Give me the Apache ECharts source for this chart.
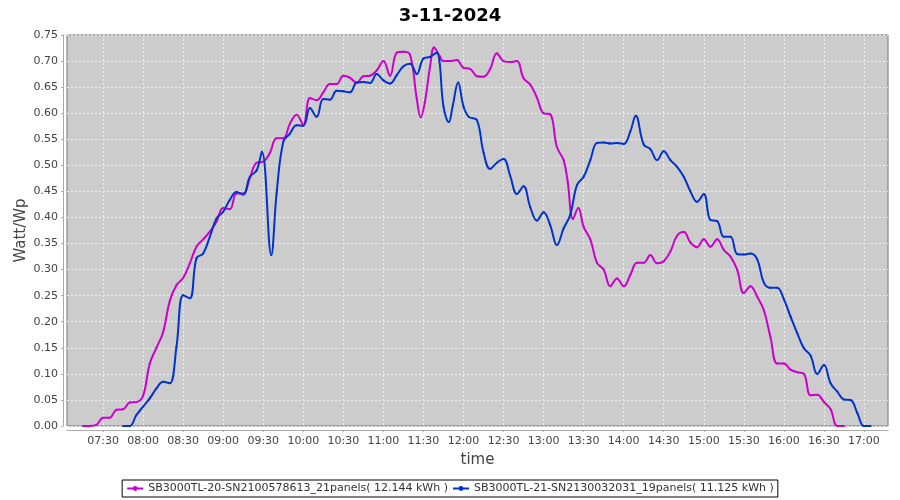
<!DOCTYPE html>
<html>
<head>
<meta charset="utf-8">
<script src="https://cdn.jsdelivr.net/npm/echarts@6/dist/echarts.min.js"></script>
<style>html,body{margin:0;padding:0;background:#fff}#c{width:900px;height:500px}</style>
</head>
<body>
<div id="c"></div>
<script>
const chartTitle = '3-11-2024';
const seriesNames = ['SB3000TL-20-SN2100578613_21panels( 12.144 kWh )', 'SB3000TL-21-SN2130032031_19panels( 11.125 kWh )'];
const yTicks = [0, 0.75, 0.05];
const xTickLabels = ['07:30','08:00','08:30','09:00','09:30','10:00','10:30','11:00','11:30','12:00','12:30','13:00','13:30','14:00','14:30','15:00','15:30','16:00','16:30','17:00'];
const xRange = ['07:03', '17:18'];

const magentaTimes = ['07:15','07:20','07:25','07:30','07:35','07:40','07:45','07:50','07:55','08:00','08:05','08:10','08:15','08:20','08:25','08:30','08:35','08:40','08:45','08:50','08:55','09:00','09:05','09:10','09:15','09:20','09:25','09:30','09:35','09:40','09:45','09:50','09:55','10:00','10:05','10:10','10:15','10:20','10:25','10:30','10:35','10:40','10:45','10:50','10:55','11:00','11:05','11:10','11:15','11:20','11:25','11:28','11:31','11:35','11:38','11:42','11:45','11:50','11:55','12:00','12:05','12:10','12:15','12:20','12:25','12:30','12:35','12:40','12:45','12:50','12:55','13:00','13:05','13:10','13:15','13:18','13:22','13:26','13:30','13:35','13:40','13:45','13:50','13:55','14:00','14:05','14:10','14:15','14:20','14:25','14:30','14:35','14:40','14:45','14:50','14:55','15:00','15:05','15:10','15:15','15:20','15:25','15:30','15:35','15:40','15:45','15:50','15:55','16:00','16:05','16:10','16:15','16:20','16:25','16:30','16:35','16:40','16:45'];
const magentaValues = [0,0,0.002,0.016,0.016,0.031,0.032,0.045,0.046,0.058,0.12,0.15,0.18,0.24,0.27,0.284,0.312,0.344,0.358,0.373,0.392,0.418,0.416,0.446,0.446,0.476,0.505,0.507,0.524,0.552,0.552,0.58,0.597,0.578,0.629,0.625,0.64,0.656,0.656,0.672,0.668,0.658,0.671,0.672,0.682,0.70,0.672,0.716,0.718,0.712,0.628,0.592,0.62,0.69,0.726,0.71,0.70,0.70,0.702,0.687,0.685,0.671,0.670,0.685,0.715,0.70,0.698,0.70,0.667,0.655,0.63,0.60,0.598,0.535,0.51,0.47,0.397,0.418,0.382,0.358,0.313,0.30,0.268,0.283,0.268,0.29,0.313,0.313,0.328,0.312,0.316,0.335,0.365,0.372,0.352,0.343,0.358,0.344,0.358,0.338,0.325,0.30,0.255,0.268,0.248,0.222,0.17,0.12,0.12,0.108,0.103,0.10,0.059,0.06,0.046,0.032,0,0];

const blueTimes = ['07:45','07:50','07:55','08:00','08:05','08:10','08:15','08:20','08:25','08:30','08:35','08:40','08:45','08:50','08:55','09:00','09:05','09:10','09:15','09:20','09:25','09:29','09:36','09:40','09:45','09:50','09:55','10:00','10:05','10:10','10:15','10:20','10:25','10:30','10:35','10:40','10:45','10:50','10:55','11:00','11:05','11:10','11:15','11:20','11:25','11:30','11:35','11:40','11:42','11:45','11:49','11:52','11:56','12:00','12:04','12:10','12:15','12:20','12:25','12:30','12:35','12:40','12:45','12:50','12:55','13:00','13:05','13:10','13:15','13:20','13:25','13:30','13:35','13:40','13:45','13:50','13:55','14:00','14:05','14:09','14:15','14:20','14:25','14:30','14:35','14:40','14:45','14:50','14:55','15:00','15:05','15:10','15:15','15:20','15:25','15:30','15:35','15:40','15:45','15:50','15:55','16:00','16:05','16:10','16:15','16:20','16:25','16:30','16:35','16:40','16:45','16:50','16:55','17:00','17:05'];
const blueValues = [0,0,0.021,0.037,0.053,0.072,0.085,0.082,0.152,0.251,0.245,0.322,0.331,0.363,0.398,0.411,0.434,0.449,0.444,0.478,0.49,0.526,0.328,0.446,0.545,0.561,0.577,0.576,0.61,0.593,0.627,0.626,0.643,0.642,0.64,0.659,0.66,0.658,0.675,0.663,0.657,0.673,0.69,0.695,0.675,0.705,0.708,0.716,0.70,0.613,0.583,0.615,0.659,0.613,0.593,0.587,0.525,0.493,0.505,0.512,0.48,0.445,0.46,0.42,0.394,0.41,0.385,0.347,0.379,0.405,0.462,0.478,0.51,0.543,0.544,0.542,0.543,0.541,0.565,0.595,0.54,0.531,0.51,0.527,0.51,0.497,0.478,0.45,0.43,0.445,0.395,0.393,0.363,0.363,0.33,0.329,0.331,0.32,0.275,0.265,0.265,0.243,0.21,0.178,0.149,0.135,0.10,0.117,0.082,0.066,0.051,0.05,0.025,0,0];

function mins(hm) {
  const p = hm.split(':');
  return (+p[0]) * 60 + (+p[1]);
}
function pairs(times, vals) { return times.map((t, i) => [mins(t), vals[i]]); }
const pad = n => (n < 10 ? '0' : '') + n;
const fmt = m => pad(Math.floor(m / 60)) + ':' + pad(Math.round(m % 60));
const xTickValues = xTickLabels.map(mins);
const font = 'DejaVu Sans';

const chart = echarts.init(document.getElementById('c'), null, {renderer: 'canvas'});
chart.setOption({
  animation: false,
  backgroundColor: '#ffffff',
  title: {
    text: chartTitle, left: 'center', top: 2,
    textStyle: {fontFamily: font, fontSize: 18, fontWeight: 'bold', color: '#000'}
  },
  legend: {
    bottom: 3, left: 'center',
    data: seriesNames,
    borderColor: '#000', borderWidth: 1, padding: [3, 4],
    itemGap: 4, itemWidth: 16, itemHeight: 6,
    textStyle: {fontFamily: font, fontSize: 11, color: '#333'}
  },
  grid: {
    left: 67, right: 12, top: 35, bottom: 74,
    show: true, backgroundColor: '#cccccc', borderColor: '#777', borderWidth: 1
  },
  xAxis: {
    type: 'value',
    min: mins(xRange[0]), max: mins(xRange[1]),
    offset: 4,
    name: 'time', nameLocation: 'middle', nameGap: 23, nameMoveOverlap: false,
    nameTextStyle: {fontFamily: font, fontSize: 15, color: '#444'},
    axisLine: {show: true, onZero: false, lineStyle: {color: '#aaa'}},
    axisTick: {show: true, length: 2, customValues: xTickValues, lineStyle: {color: '#aaa'}},
    axisLabel: {
      margin: 6, customValues: xTickValues,
      fontFamily: font, fontSize: 11, color: '#444',
      formatter: v => fmt(v)
    },
    splitLine: {show: true, lineStyle: {color: '#eeeeee', type: [2, 2], width: 1}}
  },
  yAxis: {
    type: 'value', min: yTicks[0], max: yTicks[1], interval: yTicks[2],
    offset: 4,
    name: 'Watt/Wp', nameLocation: 'middle', nameGap: 34, nameMoveOverlap: false,
    nameTextStyle: {fontFamily: font, fontSize: 15, color: '#444'},
    axisLine: {show: true, lineStyle: {color: '#aaa'}},
    axisTick: {show: true, length: 2, lineStyle: {color: '#aaa'}},
    axisLabel: {
      margin: 5, fontFamily: font, fontSize: 11, color: '#444',
      formatter: v => v.toFixed(2)
    },
    splitLine: {show: true, lineStyle: {color: '#eeeeee', type: [2, 2], width: 1}}
  },
  series: [
    {
      name: seriesNames[0], type: 'line', smooth: 0.4,
      data: pairs(magentaTimes, magentaValues),
      symbol: 'circle', symbolSize: 2, showSymbol: true,
      itemStyle: {color: '#cc00cc'},
      lineStyle: {color: '#cc00cc', width: 2}
    },
    {
      name: seriesNames[1], type: 'line', smooth: 0.4,
      data: pairs(blueTimes, blueValues),
      symbol: 'circle', symbolSize: 2, showSymbol: true,
      itemStyle: {color: '#0033cc'},
      lineStyle: {color: '#0033cc', width: 2}
    }
  ]
});
</script>
</body>
</html>
